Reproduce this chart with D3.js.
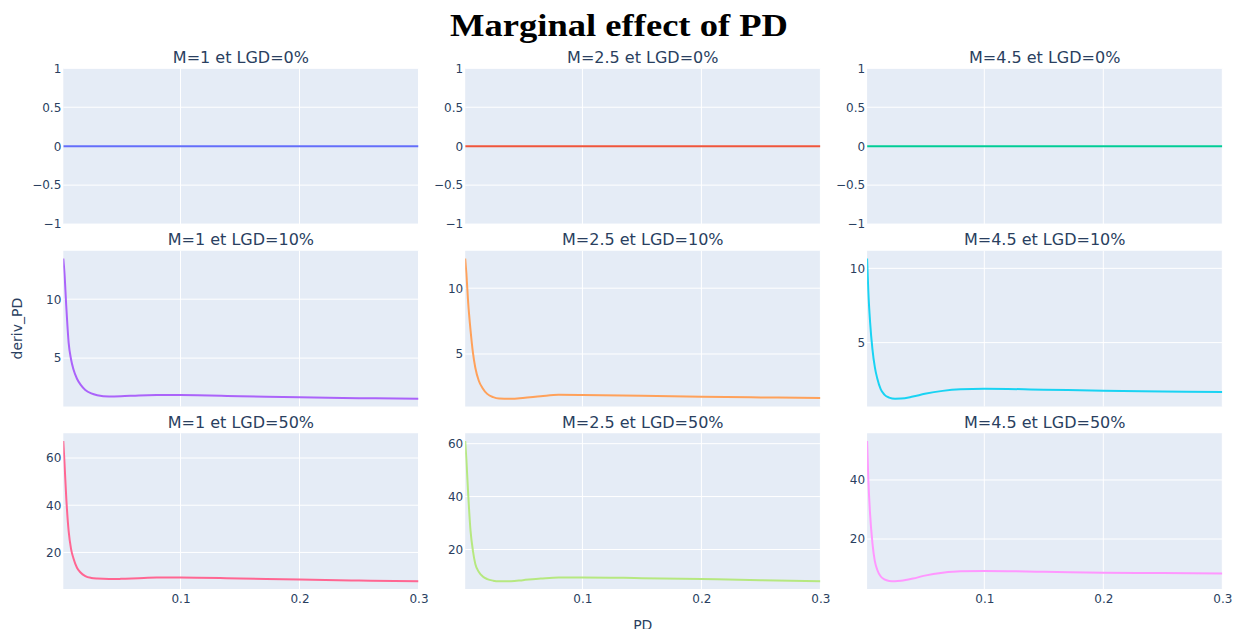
<!DOCTYPE html>
<html>
<head>
<meta charset="utf-8">
<script src="https://cdn.jsdelivr.net/npm/d3@7"></script>
<style>
  body { margin: 0; background: #ffffff; }
  text { font-family: "DejaVu Sans", Verdana, sans-serif; fill: #2a3f5f; }
</style>
</head>
<body>
<svg id="chart" width="1233" height="629"></svg>
<script>
// Probability of default grid shared by every curve
const pd = [0.0015, 0.0025, 0.004, 0.006, 0.008, 0.01, 0.013, 0.016, 0.02, 0.025,
            0.03, 0.04, 0.05, 0.065, 0.08, 0.1, 0.15, 0.2, 0.25, 0.3];

// Facet categories
const maturities = ["1", "2.5", "4.5"];
const lgdLevels = ["0%", "10%", "50%"];

// Tick labels of the PD axis
const pdTicks = [0.1, 0.2, 0.3];

// deriv_PD for each (M, LGD) pair
const derivM1Lgd0   = [0, 0, 0, 0, 0, 0, 0, 0, 0, 0, 0, 0, 0, 0, 0, 0, 0, 0, 0, 0];
const derivM25Lgd0  = [0, 0, 0, 0, 0, 0, 0, 0, 0, 0, 0, 0, 0, 0, 0, 0, 0, 0, 0, 0];
const derivM45Lgd0  = [0, 0, 0, 0, 0, 0, 0, 0, 0, 0, 0, 0, 0, 0, 0, 0, 0, 0, 0, 0];

const derivM1Lgd10  = [13.45, 12.2, 9.4, 6.3, 4.9, 4.05, 3.25, 2.75, 2.3, 2.0,
                       1.85, 1.74, 1.76, 1.83, 1.86, 1.86, 1.77, 1.67, 1.6, 1.55];
const derivM25Lgd10 = [12.25, 11.1, 8.9, 6.8, 5.1, 3.95, 2.95, 2.42, 1.97, 1.72,
                       1.62, 1.6, 1.66, 1.79, 1.9, 1.89, 1.83, 1.76, 1.7, 1.66];
const derivM45Lgd10 = [10.66, 8.5, 6.4, 4.55, 3.35, 2.6, 1.85, 1.5, 1.3, 1.22,
                       1.23, 1.37, 1.55, 1.75, 1.86, 1.9, 1.83, 1.76, 1.71, 1.67];

const derivM1Lgd50  = [67.2, 58, 43, 29, 21.5, 17.5, 13.5, 11.5, 10.0, 9.2,
                       8.9, 8.7, 8.8, 9.1, 9.35, 9.4, 8.95, 8.5, 8.1, 7.8];
const derivM25Lgd50 = [61.0, 54, 41, 27, 19.5, 14.5, 11.5, 9.9, 8.8, 8.2,
                       8.0, 8.0, 8.4, 9.0, 9.45, 9.45, 9.15, 8.8, 8.4, 8.0];
const derivM45Lgd50 = [53.2, 40.5, 28.5, 18.5, 12.5, 9.6, 7.3, 6.3, 5.8, 5.7,
                       5.85, 6.6, 7.6, 8.6, 9.1, 9.15, 8.9, 8.6, 8.45, 8.3];

// Plotly default colour sequence, one colour per facet
const colors = ["#636efa", "#EF553B", "#00cc96", "#ab63fa", "#FFA15A",
                "#19d3f3", "#FF6692", "#B6E880", "#FF97FF"];

const seriesGrid = [
  [derivM1Lgd0,  derivM25Lgd0,  derivM45Lgd0],
  [derivM1Lgd10, derivM25Lgd10, derivM45Lgd10],
  [derivM1Lgd50, derivM25Lgd50, derivM45Lgd50]
];

// ---- layout ----
const svg = d3.select("#chart");
const W = 1233, H = 629;
const plotLeft = 63.3, plotRight = 1222.3, plotTop = 68.3, plotBottom = 589;
const colGap = 46.7, rowGap = 26.7;
const panelW = (plotRight - plotLeft - 2 * colGap) / 3;
const panelH = (plotBottom - plotTop - 2 * rowGap) / 3;
const tickFmt = d3.format("~g");

svg.append("rect").attr("width", W).attr("height", H).attr("fill", "#ffffff");

// Main title
svg.append("text")
  .attr("x", 619).attr("y", 36)
  .attr("text-anchor", "middle")
  .attr("textLength", 338)
  .attr("lengthAdjust", "spacingAndGlyphs")
  .style("font-family", "'Liberation Serif', 'DejaVu Serif', serif")
  .style("font-weight", "bold")
  .style("font-size", "31px")
  .style("fill", "#000000")
  .text("Marginal effect of PD");

const xDomain = d3.extent(pd);

seriesGrid.forEach((row, r) => {
  row.forEach((values, c) => {
    const x0 = plotLeft + c * (panelW + colGap);
    const y0 = plotTop + r * (panelH + rowGap);
    const g = svg.append("g").attr("transform", `translate(${x0},${y0})`);

    const x = d3.scaleLinear().domain(xDomain).range([0, panelW]);

    // autorange with 5% padding of the axis length on each side
    const [lo, hi] = d3.extent(values);
    const span = hi - lo;
    const yDomain = span === 0 ? [lo - 1, hi + 1] : [lo - span / 18, hi + span / 18];
    const y = d3.scaleLinear().domain(yDomain).range([panelH, 0]);
    const yTicks = y.ticks(3);

    // panel background
    g.append("rect").attr("width", panelW).attr("height", panelH).attr("fill", "#E5ECF6");

    // grid
    g.selectAll(".vgrid").data(pdTicks).join("line")
      .attr("x1", d => x(d)).attr("x2", d => x(d))
      .attr("y1", 0).attr("y2", panelH)
      .attr("stroke", "#ffffff").attr("stroke-width", 1);
    g.selectAll(".hgrid").data(yTicks).join("line")
      .attr("x1", 0).attr("x2", panelW)
      .attr("y1", d => y(d)).attr("y2", d => y(d))
      .attr("stroke", "#ffffff").attr("stroke-width", 1);

    // y axis labels
    const yAxis = d3.axisLeft(y).tickValues(yTicks).tickSize(0).tickPadding(2).tickFormat(tickFmt);
    const ya = g.append("g").call(yAxis);
    ya.select(".domain").remove();
    ya.selectAll("text").style("font-size", "12px").style("font-family", "'DejaVu Sans', Verdana, sans-serif").attr("fill", "#2a3f5f");

    // x axis labels on the bottom row only
    if (r === 2) {
      const xAxis = d3.axisBottom(x).tickValues(pdTicks).tickSize(0).tickPadding(5)
        .tickFormat(d3.format(".1f"));
      const xa = g.append("g").attr("transform", `translate(0,${panelH})`).call(xAxis);
      xa.select(".domain").remove();
      xa.selectAll("text").style("font-size", "12px").style("font-family", "'DejaVu Sans', Verdana, sans-serif").attr("fill", "#2a3f5f");
    }

    // clip path for the line
    const clipId = `clip-${r}-${c}`;
    g.append("clipPath").attr("id", clipId)
      .append("rect").attr("width", panelW).attr("height", panelH);

    const line = d3.line()
      .x((d, i) => x(pd[i]))
      .y(d => y(d))
      .curve(d3.curveMonotoneX);

    g.append("path")
      .datum(values)
      .attr("clip-path", `url(#${clipId})`)
      .attr("fill", "none")
      .attr("stroke", colors[r * 3 + c])
      .attr("stroke-width", 2)
      .attr("stroke-linejoin", "round")
      .attr("d", line);

    // facet title
    svg.append("text")
      .attr("x", x0 + panelW / 2)
      .attr("y", y0 - 5.5)
      .attr("text-anchor", "middle")
      .style("font-size", "16px")
      .text(`M=${maturities[c]} et LGD=${lgdLevels[r]}`);
  });
});

// axis titles
svg.append("text")
  .attr("x", (plotLeft + plotRight) / 2)
  .attr("y", 630)
  .attr("text-anchor", "middle")
  .style("font-size", "14px")
  .text("PD");

svg.append("text")
  .attr("transform", `translate(22,${plotTop + (plotBottom - plotTop) / 2}) rotate(-90)`)
  .attr("text-anchor", "middle")
  .style("font-size", "14px")
  .text("deriv_PD");
</script>
</body>
</html>
